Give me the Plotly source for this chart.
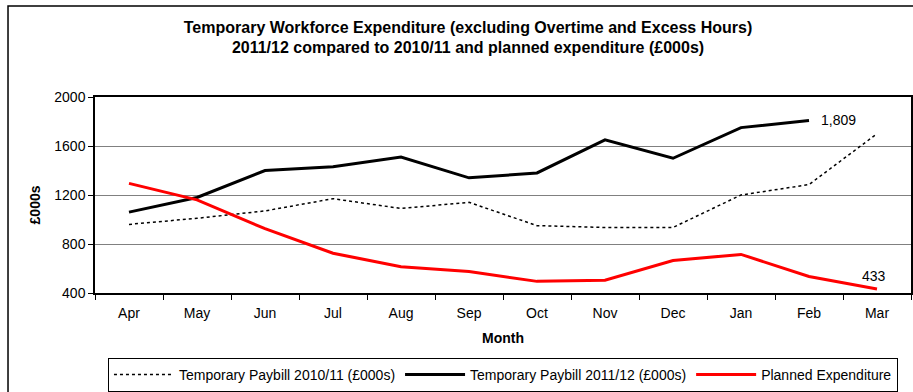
import plotly.graph_objects as go

months = ["Apr", "May", "Jun", "Jul", "Aug", "Sep", "Oct", "Nov", "Dec", "Jan", "Feb", "Mar"]
paybill_2010_11 = [960, 1010, 1070, 1170, 1090, 1140, 950, 935, 935, 1200, 1285, 1700]
paybill_2011_12 = [1060, 1180, 1400, 1430, 1510, 1340, 1380, 1650, 1500, 1750, 1809]
planned = [1295, 1160, 925, 725, 615, 575, 495, 505, 665, 715, 535, 433]

FONT = "Liberation Sans, Arial, sans-serif"

fig = go.Figure()
fig.add_trace(go.Scatter(
    x=months, y=paybill_2010_11, mode="lines",
    name="Temporary Paybill 2010/11 (£000s)",
    line=dict(color="black", width=1.5, dash="dot"),
))
fig.add_trace(go.Scatter(
    x=months[:len(paybill_2011_12)], y=paybill_2011_12, mode="lines",
    name="Temporary Paybill 2011/12 (£000s)",
    line=dict(color="black", width=3),
))
fig.add_trace(go.Scatter(
    x=months, y=planned, mode="lines",
    name="Planned Expenditure",
    line=dict(color="#ff0000", width=3),
))

# end-point value labels
fig.add_annotation(x=months[len(paybill_2011_12) - 1], y=paybill_2011_12[-1],
                   text=f"{paybill_2011_12[-1]:,}", showarrow=False,
                   xanchor="left", xshift=10, yshift=0,
                   font=dict(family=FONT, size=14, color="black"))
fig.add_annotation(x=months[-1], y=planned[-1],
                   text=f"{planned[-1]:,}", showarrow=False,
                   yanchor="bottom", yshift=3, xshift=-3,
                   font=dict(family=FONT, size=14, color="black"))

# y-axis title
fig.add_annotation(xref="paper", yref="paper", x=-0.074, y=0.45,
                   text="<b>£000s</b>", textangle=-90, showarrow=False,
                   xanchor="center", yanchor="middle",
                   font=dict(family=FONT, size=14, color="black"))

# outer chart frame
fig.add_shape(type="rect", xref="paper", yref="paper",
              x0=-0.1066, x1=1.01, y0=-0.6, y1=1.464,
              line=dict(color="black", width=1.5), layer="below")

fig.update_layout(
    width=913, height=392,
    margin=dict(l=95, r=2, t=97, b=99, autoexpand=False),
    paper_bgcolor="white", plot_bgcolor="white",
    font=dict(family=FONT, size=14, color="black"),
    title=dict(
        text="Temporary Workforce Expenditure (excluding Overtime and Excess Hours)<br>"
             "2011/12 compared to 2010/11 and planned expenditure (£000s)",
        xref="container", x=0.5126, xanchor="center",
        yref="container", y=0.917, yanchor="top",
        font=dict(family=FONT, size=16, color="black", weight="bold"),
    ),
    xaxis=dict(
        type="category", categoryorder="array", categoryarray=months,
        range=[-0.5, 11.5],
        showline=True, linecolor="black", linewidth=1.5, mirror=True,
        ticks="outside", tickson="boundaries", ticklen=5, tickcolor="black",
        ticklabelstandoff=6,
        showgrid=False, tickfont=dict(size=14),
        title=dict(text="Month", font=dict(size=14, weight="bold"), standoff=14),
    ),
    yaxis=dict(
        range=[400, 2000], tickvals=[400, 800, 1200, 1600, 2000],
        showline=True, linecolor="black", linewidth=1.5, mirror=True,
        ticks="outside", ticklen=5, tickcolor="black",
        showgrid=True, gridcolor="#808080", gridwidth=1,
        zeroline=False, tickfont=dict(size=14),
    ),
    showlegend=True,
    legend=dict(
        orientation="h", xref="container", x=0.5509, xanchor="center",
        yref="container", y=0.0, yanchor="bottom",
        bordercolor="black", borderwidth=1, bgcolor="white",
        font=dict(size=14), itemwidth=60, tracegroupgap=0,
    ),
)

fig.write_html("out.html")
